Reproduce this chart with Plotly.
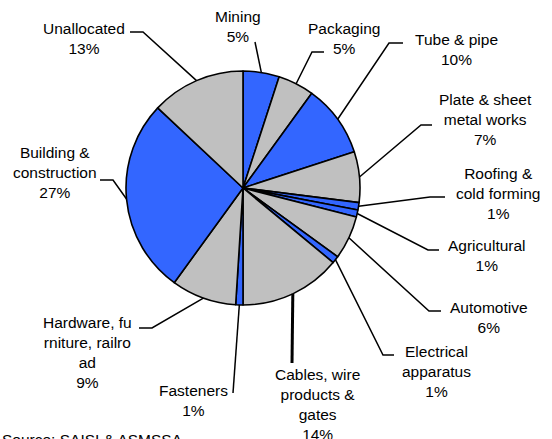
import math
import plotly.graph_objects as go

# ---- data ----
categories = ["Mining", "Packaging", "Tube & pipe", "Plate & sheet metal works",
              "Roofing & cold forming", "Agricultural", "Automotive",
              "Electrical apparatus", "Cables, wire products & gates", "Fasteners",
              "Hardware, furniture, railroad", "Building & construction", "Unallocated"]
values = [5, 5, 10, 7, 1, 1, 6, 1, 14, 1, 9, 27, 13]
label_texts = ["Mining<br>5%", "Packaging<br>5%", "Tube & pipe<br>10%",
               "Plate & sheet<br>metal works<br>7%", "Roofing &<br>cold forming<br>1%",
               "Agricultural<br>1%", "Automotive<br>6%", "Electrical<br>apparatus<br>1%",
               "Cables, wire<br>products &<br>gates<br>14%", "Fasteners<br>1%",
               "Hardware, fu<br>rniture, railro<br>ad<br>9%",
               "Building &<br>construction<br>27%", "Unallocated<br>13%"]
BLUE, GREY = "#3366FF", "#C0C0C0"
slice_colors = [BLUE, GREY, BLUE, GREY, BLUE, BLUE, GREY, BLUE, GREY, BLUE, GREY, BLUE, GREY]

# ---- layout (pixels) ----
W, H = 552, 439
CX, CY, R = 243, 188, 117
# label text centres
text_pos = [(238, 26.5), (344, 38), (456.5, 49.5), (485, 120), (498, 193),
            (487, 255), (489, 317), (436, 371.5), (317.5, 404.5), (193, 400),
            (87.5, 352), (55, 173), (84, 38.5)]
# leader line points after the pie edge point
leader_pts = [[(255, 42)], [(312, 52), (324, 52)], [(389, 43), (403, 43)],
              [(421, 125), (432, 125)], [(430, 197), (445, 197)],
              [(428, 250), (439, 250)], [(429, 311), (441, 311)],
              [(383, 355), (394, 355)], [(292, 363)], [(233, 393)],
              [(152, 328), (139, 328)], [(113, 180), (100, 180)],
              [(143, 32), (130, 32)]]
leader_w = [1.5, 1.5, 1.5, 1.5, 1.5, 1.5, 1.5, 1.5, 3, 1.5, 1.5, 1.5, 1.5]


def px(x, y):
    return x / W, 1 - y / H


fig = go.Figure(go.Pie(
    labels=categories, values=values, sort=False, direction="clockwise", rotation=0,
    marker=dict(colors=slice_colors, line=dict(color="black", width=1.6)),
    textinfo="none", hoverinfo="label+percent", showlegend=False,
    domain=dict(x=[(CX - R) / W, (CX + R) / W], y=[1 - (CY + R) / H, 1 - (CY - R) / H]),
))

total = sum(values)
cum = 0
shapes, annotations = [], []
for i, v in enumerate(values):
    mid = (cum + v / 2) / total * 2 * math.pi
    cum += v
    ex, ey = CX + R * math.sin(mid), CY - R * math.cos(mid)
    pts = [(ex, ey)] + leader_pts[i]
    path = ""
    for j, (x, y) in enumerate(pts):
        X, Y = px(x, y)
        path += ("M" if j == 0 else " L") + f"{X:.5f},{Y:.5f}"
    shapes.append(dict(type="path", path=path, xref="paper", yref="paper",
                       line=dict(color="black", width=leader_w[i])))
    tx, ty = px(*text_pos[i])
    annotations.append(dict(x=tx, y=ty, xref="paper", yref="paper", text=label_texts[i],
                            showarrow=False, xanchor="center", yanchor="middle",
                            align="center", font=dict(size=15.5, color="black")))

sx, sy = px(0, 439)
annotations.append(dict(x=sx, y=sy, xref="paper", yref="paper", text="Source: SAISI & ASMSSA",
                        showarrow=False, xanchor="left", yanchor="middle", align="left",
                        font=dict(size=15.5, color="black")))

fig.update_layout(
    width=W, height=H, margin=dict(l=0, r=0, t=0, b=0),
    paper_bgcolor="white", plot_bgcolor="white",
    font=dict(family="Liberation Sans, Arial, sans-serif", color="black"),
    shapes=shapes, annotations=annotations,
)
fig.write_html("out.html", config={"displayModeBar": False},
               post_script="document.body.style.margin='0';document.body.style.overflow='hidden';")
